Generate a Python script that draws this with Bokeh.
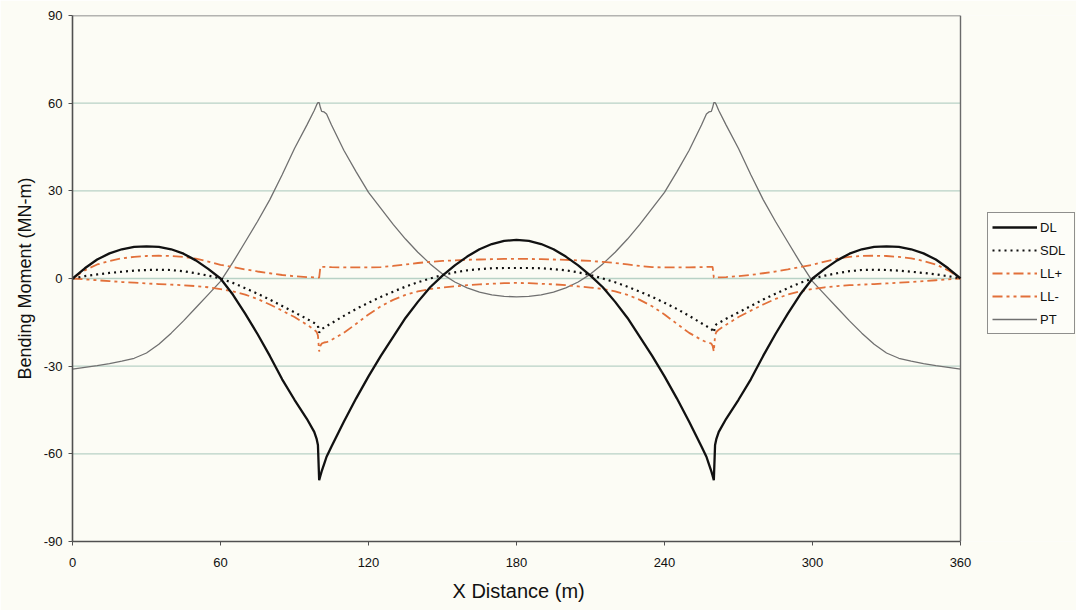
from bokeh.plotting import figure
from bokeh.models import Legend, LegendItem, FixedTicker, Range1d, Title
from bokeh.embed import file_html
from bokeh.resources import INLINE

# X grid (m)
x_dist = [0, 5, 10, 15, 20, 25, 30, 35, 40, 45, 50, 55, 60, 65, 70, 75, 80, 85, 90, 95,
          98, 99, 99.5, 100, 100.5, 101, 102, 103, 105,
          110, 115, 120, 125, 130, 135, 140, 145, 150, 155, 160, 165, 170, 175, 180,
          185, 190, 195, 200, 205, 210, 215, 220, 225, 230, 235, 240, 245, 250, 255,
          257, 258, 259, 259.5, 260, 260.5, 261, 262,
          265, 270, 275, 280, 285, 290, 295, 300, 305, 310, 315, 320, 325, 330, 335, 340,
          345, 350, 355, 360]

dl = [0, 3.5, 6.5, 8.6, 10, 10.8, 11, 10.8, 10, 8.5, 6.2, 3.3, 0, -5.5, -12, -19, -26.5, -34.5, -41.5, -48,
      -52.5, -55, -57, -69, -67.5, -66, -63.5, -61, -57.5,
      -49, -41, -33.5, -26.5, -20, -13.5, -8, -3, 1, 4.5, 7.5, 10, 11.8, 12.9, 13.2,
      12.9, 11.8, 10, 7.5, 4.5, 1, -3, -8, -13.5, -20, -26.5, -33.5, -41, -49, -57.5,
      -61, -63.5, -66, -67.5, -69, -57, -55, -52.5,
      -48, -41.5, -34.5, -26.5, -19, -12, -5.5, 0, 3.3, 6.2, 8.5, 10, 10.8, 11, 10.8, 10,
      8.6, 6.5, 3.5, 0]

sdl = [0, 0.8, 1.4, 1.9, 2.3, 2.7, 2.9, 3.0, 2.9, 2.5, 1.8, 1.0, 0, -1.5, -3.3, -5.2, -7.2, -9.4, -11.6, -13.8,
       -15.2, -15.7, -16.2, -18.5, -17.8, -17.3, -16.8, -16.3, -15.3,
       -12.8, -10.4, -8.3, -6.3, -4.5, -2.8, -1.3, 0, 1.2, 2.1, 2.8, 3.2, 3.5, 3.6, 3.6,
       3.6, 3.5, 3.2, 2.8, 2.1, 1.2, 0, -1.3, -2.8, -4.5, -6.3, -8.3, -10.4, -12.8, -15.3,
       -16.3, -16.8, -17.3, -17.8, -18.5, -16.2, -15.7, -15.2,
       -13.8, -11.6, -9.4, -7.2, -5.2, -3.3, -1.5, 0, 1.0, 1.8, 2.5, 2.9, 3.0, 2.9, 2.7, 2.3,
       1.9, 1.4, 0.8, 0]

ll_plus = [0, 2.8, 4.8, 6.0, 6.9, 7.4, 7.7, 7.8, 7.7, 7.4, 6.8, 5.8, 4.7, 3.9, 3.1, 2.4, 1.8, 1.2, 0.8, 0.5,
           0.4, 0.35, 0.3, 0.3, 4.0, 4.0, 4.0, 3.95, 3.9,
           3.8, 3.8, 3.8, 3.9, 4.3, 4.8, 5.3, 5.7, 6.0, 6.2, 6.4, 6.5, 6.6, 6.7, 6.7,
           6.7, 6.6, 6.5, 6.4, 6.2, 6.0, 5.7, 5.3, 4.8, 4.3, 3.9, 3.8, 3.8, 3.8, 3.9,
           3.95, 4.0, 4.0, 4.0, 0.3, 0.3, 0.35, 0.4,
           0.5, 0.8, 1.2, 1.8, 2.4, 3.1, 3.9, 4.7, 5.8, 6.8, 7.4, 7.7, 7.8, 7.7, 7.4, 6.9,
           6.0, 4.8, 2.8, 0]

ll_minus = [0, -0.3, -0.6, -0.9, -1.2, -1.4, -1.7, -1.9, -2.1, -2.3, -2.6, -3.0, -3.6, -4.4, -5.5, -7.0, -8.9, -11.0, -13.2, -15.8,
            -17.5, -18.3, -19.5, -25, -23, -22.3, -21.9, -21.8, -21.0,
            -18.6, -15.5, -12.3, -9.5, -7.3, -5.6, -4.4, -3.6, -3.1, -2.7, -2.3, -2.0, -1.8, -1.6, -1.5,
            -1.6, -1.8, -2.0, -2.3, -2.7, -3.1, -3.6, -4.4, -5.6, -7.3, -9.5, -12.3, -15.5, -18.6, -21.0,
            -21.8, -21.9, -22.3, -23, -25, -19.5, -18.3, -17.5,
            -15.8, -13.2, -11.0, -8.9, -7.0, -5.5, -4.4, -3.6, -3.0, -2.6, -2.3, -2.1, -1.9, -1.7, -1.4, -1.2,
            -0.9, -0.6, -0.3, 0]

pt = [-31, -30.4, -29.8, -29.1, -28.3, -27.3, -25.5, -22.5, -18.7, -14.5, -10, -5.5, -1, 5.5, 12.5, 19.5, 27, 35.5, 44.5, 52.5,
      57.5, 59.5, 60.2, 60.2, 58.5, 57.2, 57, 56.3, 52.5,
      43.9, 36.5, 29.5, 24, 18.5, 13.5, 9, 5, 1.5, -1.2, -3.2, -4.7, -5.6, -6.1, -6.3,
      -6.1, -5.6, -4.7, -3.2, -1.2, 1.5, 5, 9, 13.5, 18.5, 24, 29.5, 36.5, 43.9, 52.5,
      56.3, 57, 57.2, 58.5, 60.2, 60.2, 59.5, 57.5,
      52.5, 44.5, 35.5, 27, 19.5, 12.5, 5.5, -1, -5.5, -10, -14.5, -18.7, -22.5, -25.5, -27.3, -28.3,
      -29.1, -29.8, -30.4, -31]

x_ticks = [0, 60, 120, 180, 240, 300, 360]
y_ticks = [-90, -60, -30, 0, 30, 60, 90]
y_tick_labels = {-90: "-90", -60: "-60", -30: "-30", 0: "0", 30: "30", 60: "60", 90: "90"}
grid_ticks = [-60, -30, 0, 30, 60]

FONT = "Liberation Sans"
BG = "#fcfcf5"
ORANGE = "#e2703a"

W, H = 1076, 610
LEFT, PLOT_RIGHT = 72, 960           # pixel extent of the 0..360 m data area
x_min, x_max = x_ticks[0], x_ticks[-1]
y_min, y_max = y_ticks[0], y_ticks[-1]
# frame reaches the right edge so the legend can sit beside the data area
x_end = x_max * (W - LEFT) / (PLOT_RIGHT - LEFT)

p = figure(width=W, height=H, output_backend="svg", toolbar_location=None,
           x_range=Range1d(x_min, x_end), y_range=Range1d(y_min, y_max),
           min_border_left=LEFT, min_border_right=0, min_border_top=15, min_border_bottom=68,
           background_fill_color=BG, border_fill_color=BG)

p.xgrid.visible = False
p.ygrid.visible = False
p.outline_line_color = None

for ax in (p.xaxis[0], p.yaxis[0]):
    ax.axis_line_color = "#505050"
    ax.axis_line_width = 1.6
    ax.major_tick_line_color = "#505050"
    ax.major_tick_in = 0
    ax.major_tick_out = 4
    ax.minor_tick_line_color = None
    ax.major_label_text_font = FONT
    ax.major_label_text_font_size = "13px"
    ax.major_label_text_color = "#111111"
    ax.axis_label_text_font = FONT
    ax.axis_label_text_font_style = "normal"
    ax.axis_label_text_color = "#111111"

p.xaxis.bounds = (x_min, x_max)
p.xaxis.ticker = FixedTicker(ticks=x_ticks)
p.yaxis.ticker = FixedTicker(ticks=y_ticks)
p.yaxis.major_label_overrides = y_tick_labels
p.yaxis.axis_label = "Bending Moment (MN-m)"
p.yaxis.axis_label_text_font_size = "18px"
p.xaxis.major_label_standoff = 12
p.yaxis.major_label_standoff = 6
p.yaxis.axis_label_standoff = 6

# x-axis title, centred under the 0..360 m data area
x_title = Title(text="X Distance (m)", align="left", offset=380, standoff=17,
                text_font=FONT, text_font_size="20px", text_font_style="normal",
                text_color="#111111")
p.add_layout(x_title, "below")

# horizontal grid lines and the top/right border of the data area
p.segment(x0=[x_min] * len(grid_ticks), y0=grid_ticks, x1=[x_max] * len(grid_ticks), y1=grid_ticks,
          line_color="#b8d2c6", line_width=1.3)
p.segment(x0=[x_min, x_max], y0=[y_max, y_min], x1=[x_max, x_max], y1=[y_max, y_max],
          line_color="#6a6a6a", line_width=1.4)

r_pt = p.line(x_dist, pt, line_color="#707070", line_width=1.3)
r_llm = p.line(x_dist, ll_minus, line_color=ORANGE, line_width=1.8, line_dash="10 4 3 4 3 4")
r_llp = p.line(x_dist, ll_plus, line_color=ORANGE, line_width=1.8, line_dash="10 4 3 4")
r_sdl = p.line(x_dist, sdl, line_color="#111111", line_width=2.2, line_dash="2 4")
r_dl = p.line(x_dist, dl, line_color="#111111", line_width=2.3)

legend = Legend(items=[
    LegendItem(label="DL", renderers=[r_dl]),
    LegendItem(label="SDL", renderers=[r_sdl]),
    LegendItem(label="LL+", renderers=[r_llp]),
    LegendItem(label="LL-", renderers=[r_llm]),
    LegendItem(label="PT", renderers=[r_pt]),
], location=(915, 207))
legend.margin = 0
legend.padding = 4
legend.spacing = 3
legend.glyph_width = 45
legend.glyph_height = 20
legend.label_height = 20
legend.label_width = 30
legend.label_standoff = 3
legend.label_text_font = FONT
legend.label_text_font_size = "13px"
legend.label_text_color = "#111111"
legend.border_line_color = "#222222"
legend.border_line_width = 1
legend.background_fill_color = "#fdfdf8"
legend.background_fill_alpha = 1
p.add_layout(legend)

open("out.html", "w").write(file_html(p, INLINE))
